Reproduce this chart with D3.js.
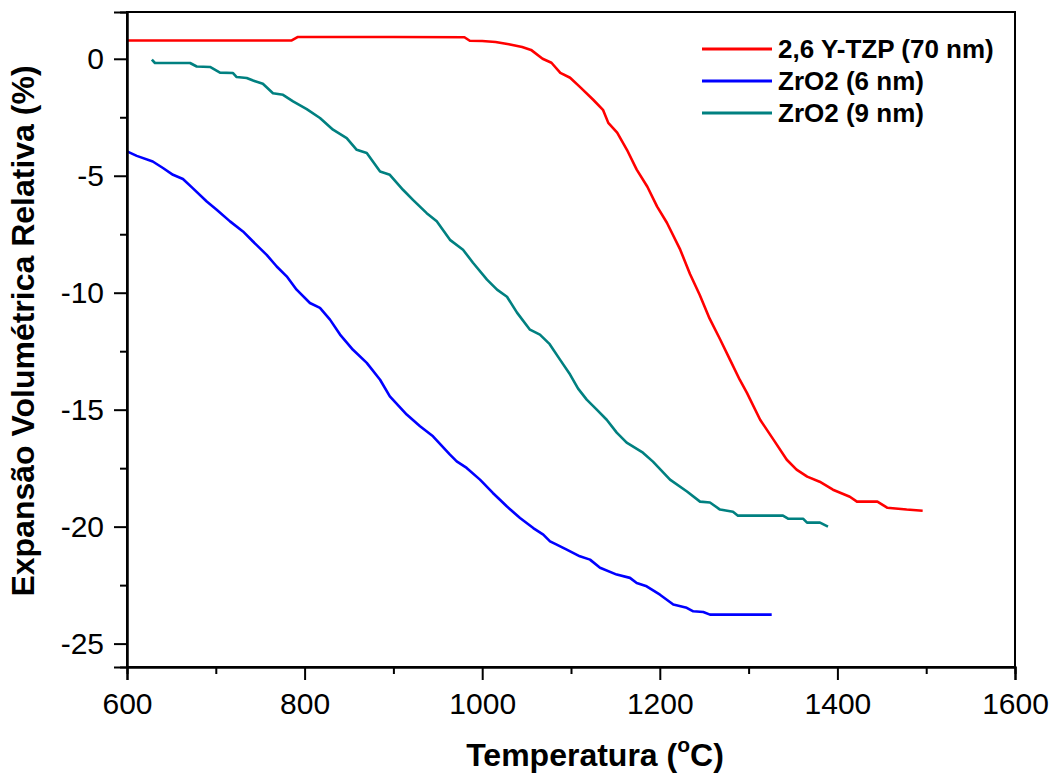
<!DOCTYPE html>
<html>
<head>
<meta charset="utf-8">
<script src="https://cdn.jsdelivr.net/npm/d3@7"></script>
<style>
  body { margin: 0; background: #fff; }
  svg { font-family: "Liberation Sans", Arial, sans-serif; }
</style>
</head>
<body>
<div id="chart"></div>
<script>
// series data: [temperature (C), relative volume expansion (%)]
var ytzp70 = [[600,0.78],[700,0.78],[785,0.78],[792,0.93],[900,0.93],[980,0.92],[986,0.77],[1000,0.76],
  [1015,0.72],[1030,0.62],[1045,0.5],[1055,0.38],[1068,0],[1078,-0.17],[1088,-0.6],[1099,-0.81],
  [1110,-1.2],[1125,-1.75],[1136,-2.18],[1142,-2.74],[1152,-3.16],[1163,-3.89],[1174,-4.74],
  [1186,-5.47],[1197,-6.32],[1208,-7.01],[1223,-8.16],[1234,-9.2],[1245,-10.1],[1256,-11.1],
  [1268,-12.0],[1279,-12.86],[1290,-13.72],[1298,-14.27],[1313,-15.43],[1328,-16.28],[1343,-17.14],
  [1354,-17.56],[1366,-17.86],[1380,-18.08],[1395,-18.42],[1414,-18.72],[1422,-18.93],[1445,-18.93],
  [1456,-19.19],[1478,-19.27],[1496,-19.32]];

var zro2_6 = [[600,-3.96],[611,-4.15],[629,-4.39],[640.5,-4.67],[651.8,-4.96],[663,-5.14],[674,-5.53],
  [689.8,-6.1],[701,-6.45],[716,-6.95],[730.6,-7.38],[741.9,-7.81],[757.3,-8.38],[768.6,-8.88],
  [779.8,-9.3],[791,-9.87],[806,-10.44],[817.3,-10.65],[828.6,-11.15],[839.9,-11.79],[854.5,-12.44],
  [870,-13.0],[885,-13.72],[896,-14.43],[915,-15.21],[930,-15.71],[944.6,-16.14],[963.7,-16.92],
  [971.3,-17.21],[982.5,-17.49],[997.5,-17.99],[1012,-18.56],[1020,-18.85],[1027.6,-19.13],
  [1042.6,-19.63],[1057.5,-20.06],[1068.8,-20.34],[1076.4,-20.63],[1083.9,-20.77],[1095.2,-20.98],
  [1110,-21.27],[1121.4,-21.41],[1132.7,-21.76],[1151.5,-22.05],[1166.4,-22.19],[1174,-22.41],
  [1185.2,-22.55],[1200.2,-22.91],[1215.2,-23.33],[1230.3,-23.47],[1237.7,-23.62],[1249,-23.65],
  [1256.5,-23.76],[1326,-23.76]];

var zro2_9 = [[628,-0.04],[631.5,-0.18],[671,-0.18],[678.5,-0.33],[693.5,-0.35],[704.7,-0.59],
  [719.4,-0.61],[723.5,-0.78],[734.8,-0.82],[742,-0.93],[753,-1.07],[764.4,-1.47],[775.7,-1.54],
  [787,-1.82],[802.4,-2.15],[817.3,-2.53],[832,-3.03],[847.4,-3.39],[858.7,-3.89],[870,-4.03],
  [885,-4.82],[896,-4.96],[910.8,-5.6],[922,-6.03],[937.5,-6.6],[948.8,-6.95],[963.7,-7.74],
  [978.4,-8.16],[989.6,-8.72],[1005.4,-9.44],[1016.7,-9.87],[1027.9,-10.17],[1039.2,-10.85],
  [1053.8,-11.58],[1065,-11.79],[1076,-12.2],[1087.6,-12.86],[1099,-13.5],[1108,-14.1],
  [1117.7,-14.57],[1129,-15.0],[1140.2,-15.43],[1151.5,-15.98],[1162.7,-16.41],[1181,-16.84],
  [1192.3,-17.22],[1211.5,-17.99],[1230.6,-18.5],[1245.3,-18.93],[1256.5,-18.97],[1267.8,-19.27],
  [1282.4,-19.36],[1288,-19.53],[1338.7,-19.53],[1344.4,-19.66],[1361.3,-19.66],[1365.8,-19.83],
  [1380.4,-19.83],[1389.4,-20.0]];

var seriesNames = ["2,6 Y-TZP (70 nm)", "ZrO2 (6 nm)", "ZrO2 (9 nm)"];
var seriesColors = ["#ff0000", "#0000ff", "#008080"];
var xTicks = [600, 800, 1000, 1200, 1400, 1600];
var xMinor = [700, 900, 1100, 1300, 1500];
var yTicks = [0, -5, -10, -15, -20, -25];
var yMinor = [-2.5, -7.5, -12.5, -17.5, -22.5];

var width = 1060, height = 773;
var margin = { left: 127, right: 45, top: 12, bottom: 106 };

var svg = d3.select("#chart").append("svg")
  .attr("width", width)
  .attr("height", height);

var xScale = d3.scaleLinear().domain([600, 1600]).range([margin.left, width - margin.right]);
var yScale = d3.scaleLinear().domain([-26, 2]).range([height - margin.bottom, margin.top]);

var plotBottom = height - margin.bottom;

// curves
var valueLine = d3.line()
  .x(function(d) { return xScale(d[0]); })
  .y(function(d) { return yScale(d[1]); });

[ytzp70, zro2_6, zro2_9].forEach(function(s, i) {
  svg.append("path")
    .attr("d", valueLine(s))
    .attr("fill", "none")
    .attr("stroke", seriesColors[i])
    .attr("stroke-width", 2.6)
    .attr("stroke-linejoin", "round");
});

// frame (top and right)
svg.append("rect")
  .attr("x", xScale(600)).attr("y", yScale(2))
  .attr("width", xScale(1600) - xScale(600))
  .attr("height", yScale(-26) - yScale(2))
  .attr("fill", "none").attr("stroke", "#000").attr("stroke-width", 2);

// x axis
svg.append("g")
  .attr("transform", "translate(0," + plotBottom + ")")
  .call(d3.axisBottom(xScale).tickValues(xTicks).tickSize(13).tickPadding(13).tickFormat(d3.format("d")));
svg.append("g")
  .attr("transform", "translate(0," + plotBottom + ")")
  .call(d3.axisBottom(xScale).tickValues(xMinor).tickSize(7).tickFormat(""));

// y axis
var yAxis = svg.append("g")
  .attr("transform", "translate(" + margin.left + ",0)")
  .call(d3.axisLeft(yScale).tickValues(yTicks).tickSize(13).tickPadding(10).tickFormat(d3.format("d")));
svg.append("g")
  .attr("transform", "translate(" + margin.left + ",0)")
  .call(d3.axisLeft(yScale).tickValues(yMinor).tickSize(7).tickFormat(""));

svg.selectAll(".domain").attr("stroke-width", 2);
svg.selectAll(".tick line").attr("stroke-width", 2);
svg.selectAll(".tick text")
  .attr("font-size", 30)
  .attr("font-family", "Liberation Sans, Arial, sans-serif")
  .attr("fill", "#000");
yAxis.selectAll(".tick text").text(function(d) { return d < 0 ? "-" + Math.abs(d) : d; });

// axis titles
var xt = svg.append("text")
  .attr("x", 595).attr("y", 766)
  .attr("text-anchor", "middle")
  .attr("font-size", 32).attr("font-weight", "bold")
  .text("Temperatura (");
xt.append("tspan").attr("font-size", 21).attr("dy", -14).text("o");
xt.append("tspan").attr("dy", 14).text("C)");

svg.append("text")
  .attr("transform", "translate(34," + 331 + ") rotate(-90)")
  .attr("text-anchor", "middle")
  .attr("font-size", 32).attr("font-weight", "bold")
  .text("Expansão Volumétrica Relativa (%)");

// legend
var legend = svg.append("g").attr("transform", "translate(702,49)");
seriesNames.forEach(function(name, i) {
  var row = legend.append("g").attr("transform", "translate(0," + (i * 32) + ")");
  row.append("line")
    .attr("x1", 0).attr("x2", 70).attr("y1", 0).attr("y2", 0)
    .attr("stroke", seriesColors[i]).attr("stroke-width", 3);
  row.append("text")
    .attr("x", 76).attr("dy", "0.35em")
    .attr("font-size", 26).attr("font-weight", "bold")
    .text(name);
});
</script>
</body>
</html>
